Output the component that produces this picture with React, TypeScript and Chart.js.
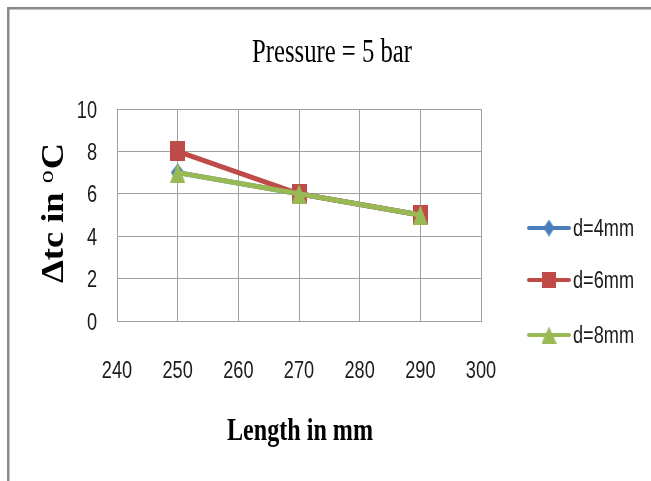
import React, { useEffect, useRef } from 'react';
import { Chart, registerables } from 'chart.js';

Chart.register(...registerables);

// ---- data ----
const lengths = [250, 270, 290];
const seriesNames = ['d=4mm', 'd=6mm', 'd=8mm'];
const d4mm = [7, 6, 5];
const d6mm = [8, 6, 5];
const d8mm = [7, 6, 5];
const xTickValues = [240, 250, 260, 270, 280, 290, 300];
const yTickValues = [0, 2, 4, 6, 8, 10];
const chartTitle = 'Pressure = 5 bar';
const xTitle = 'Length in mm';
const yTitleMain = '\u0394tc in ';
const yTitleSup = 'o';
const yTitleEnd = 'C';

const BLUE = '#4a7ebb';
const RED = '#be4b48';
const GREEN = '#98b954';
const SANS = '"Liberation Sans", Arial, sans-serif';
const SANS_SX = 0.79;

function makeMarker(shape: string, w: number, h: number, color: string) {
  const c = document.createElement('canvas');
  c.width = w;
  c.height = h;
  const g = c.getContext('2d')!;
  g.fillStyle = color;
  g.beginPath();
  if (shape === 'rect') {
    g.rect(0, 0, w, h);
  } else if (shape === 'diamond') {
    g.moveTo(w / 2, 0);
    g.lineTo(w, h / 2);
    g.lineTo(w / 2, h);
    g.lineTo(0, h / 2);
    g.closePath();
  } else {
    g.moveTo(w / 2, 0);
    g.lineTo(w, h);
    g.lineTo(0, h);
    g.closePath();
  }
  g.fill();
  return c;
}

function fitText(
  ctx: CanvasRenderingContext2D,
  text: string,
  x: number,
  y: number,
  font: string,
  targetWidth: number
) {
  ctx.save();
  ctx.font = font;
  const w = ctx.measureText(text).width;
  const sx = targetWidth / w;
  ctx.translate(x, y);
  ctx.scale(sx, 1);
  ctx.textAlign = 'center';
  ctx.textBaseline = 'alphabetic';
  ctx.fillStyle = '#000';
  ctx.fillText(text, 0, 0);
  ctx.restore();
}

function condText(
  ctx: CanvasRenderingContext2D,
  text: string,
  x: number,
  y: number,
  align: CanvasTextAlign,
  color: string
) {
  ctx.save();
  ctx.font = '23px ' + SANS;
  ctx.translate(x, y);
  ctx.scale(SANS_SX, 1);
  ctx.textAlign = align;
  ctx.textBaseline = 'alphabetic';
  ctx.fillStyle = color;
  ctx.fillText(text, 0, 0);
  ctx.restore();
}

export default function App() {
  const ref = useRef<HTMLCanvasElement | null>(null);

  useEffect(() => {
    const canvas = ref.current;
    if (!canvas) return;

    const mBlue = makeMarker('diamond', 14, 18, BLUE);
    const mRed = makeMarker('rect', 15, 20, RED);
    const mGreen = makeMarker('triangle', 15, 20, GREEN);
    const lBlue = makeMarker('diamond', 11, 17, BLUE);
    const lRed = makeMarker('rect', 14, 16, RED);
    const lGreen = makeMarker('triangle', 15, 17, GREEN);

    const colors = [BLUE, RED, GREEN];
    const legendMarkers = [lBlue, lRed, lGreen];

    const decor = {
      id: 'decor',
      beforeDraw(chart: any) {
        const ctx = chart.ctx as CanvasRenderingContext2D;
        ctx.save();
        ctx.fillStyle = '#ffffff';
        ctx.fillRect(0, 0, chart.width, chart.height);
        ctx.fillStyle = '#8a8a8a';
        ctx.fillRect(7, 7, chart.width - 7, 2.5);
        ctx.fillRect(7, 7, 2.5, chart.height - 7);
        ctx.restore();
      },
      afterDraw(chart: any) {
        const ctx = chart.ctx as CanvasRenderingContext2D;
        const xs = chart.scales.x;
        const ys = chart.scales.y;

        // tick labels, placed through the scales
        xs.ticks.forEach((t: any) => {
          const px = xs.getPixelForValue(t.value);
          condText(ctx, String(t.value), px, 378, 'center', '#1a1a1a');
        });
        ys.ticks.forEach((t: any) => {
          const py = ys.getPixelForValue(t.value);
          condText(ctx, String(t.value), 97, py + 8.5, 'right', '#1a1a1a');
        });

        // chart title
        fitText(ctx, chartTitle, 332, 62, '33px "Liberation Serif", serif', 160);
        // x title
        fitText(ctx, xTitle, 300, 440, 'bold 32px "Liberation Serif", serif', 146);

        // y title (rotated)
        ctx.save();
        const fMain = 'bold 31px "Liberation Serif", serif';
        const fSup = '22px "Liberation Serif", serif';
        ctx.font = fMain;
        const w1 = ctx.measureText(yTitleMain).width;
        const w3 = ctx.measureText(yTitleEnd).width;
        ctx.font = fSup;
        const w2 = ctx.measureText(yTitleSup).width + 1;
        const total = w1 + w2 + w3;
        const sx = 140 / total;
        ctx.translate(63, 213);
        ctx.rotate(-Math.PI / 2);
        ctx.scale(sx, 1);
        ctx.fillStyle = '#000';
        ctx.textAlign = 'left';
        ctx.textBaseline = 'alphabetic';
        let px = -total / 2;
        ctx.font = fMain;
        ctx.fillText(yTitleMain, px, 0);
        px += w1;
        ctx.font = fSup;
        ctx.fillText(yTitleSup, px, -10);
        px += w2;
        ctx.font = fMain;
        ctx.fillText(yTitleEnd, px, 0);
        ctx.restore();

        // legend
        const rows = [228, 280, 335];
        ctx.save();
        seriesNames.forEach((name, i) => {
          const y = rows[i];
          ctx.strokeStyle = colors[i];
          ctx.lineWidth = 4;
          ctx.lineCap = 'round';
          ctx.beginPath();
          ctx.moveTo(529, y);
          ctx.lineTo(569, y);
          ctx.stroke();
          const m = legendMarkers[i];
          ctx.drawImage(m, 549 - m.width / 2, y - m.height / 2);
          condText(ctx, name, 573, y + 8, 'left', '#1a1a1a');
        });
        ctx.restore();
      },
    };

    const toPts = (arr: number[]) => lengths.map((x, i) => ({ x, y: arr[i] }));

    const chart = new Chart(canvas, {
      type: 'line',
      data: {
        datasets: [
          {
            label: seriesNames[0],
            data: toPts(d4mm),
            borderColor: BLUE,
            backgroundColor: BLUE,
            borderWidth: 5,
            pointStyle: mBlue as any,
            order: 3,
          },
          {
            label: seriesNames[1],
            data: toPts(d6mm),
            borderColor: RED,
            backgroundColor: RED,
            borderWidth: 5,
            pointStyle: mRed as any,
            order: 2,
          },
          {
            label: seriesNames[2],
            data: toPts(d8mm),
            borderColor: GREEN,
            backgroundColor: GREEN,
            borderWidth: 5,
            pointStyle: mGreen as any,
            order: 1,
          },
        ],
      },
      options: {
        responsive: false,
        animation: false,
        devicePixelRatio: 1,
        layout: { padding: { left: 0, right: 170, top: 109, bottom: 0 } },
        plugins: {
          legend: { display: false },
          title: { display: false },
          tooltip: { enabled: false },
        },
        elements: {
          line: { tension: 0, borderJoinStyle: 'round', borderCapStyle: 'round' },
        },
        scales: {
          x: {
            type: 'linear',
            min: 240,
            max: 300,
            afterBuildTicks: (s: any) => {
              s.ticks = xTickValues.map((v) => ({ value: v }));
            },
            afterFit: (s: any) => {
              s.height = 160;
            },
            grid: { color: '#a0a0a0', lineWidth: 1, drawTicks: false },
            border: { display: true, color: '#a0a0a0' },
            ticks: { display: false },
          },
          y: {
            type: 'linear',
            min: 0,
            max: 10,
            afterBuildTicks: (s: any) => {
              s.ticks = yTickValues.map((v) => ({ value: v }));
            },
            afterFit: (s: any) => {
              s.width = 117;
            },
            grid: { color: '#a0a0a0', lineWidth: 1, drawTicks: false },
            border: { display: true, color: '#a0a0a0' },
            ticks: { display: false },
          },
        },
      },
      plugins: [decor],
    });

    return () => {
      chart.destroy();
    };
  }, []);

  return (
    <div style={{ position: 'fixed', left: 0, top: 0, width: 651, height: 481, background: '#fff' }}>
      <canvas ref={ref} width={651} height={481} style={{ display: 'block', width: 651, height: 481 }} />
    </div>
  );
}
